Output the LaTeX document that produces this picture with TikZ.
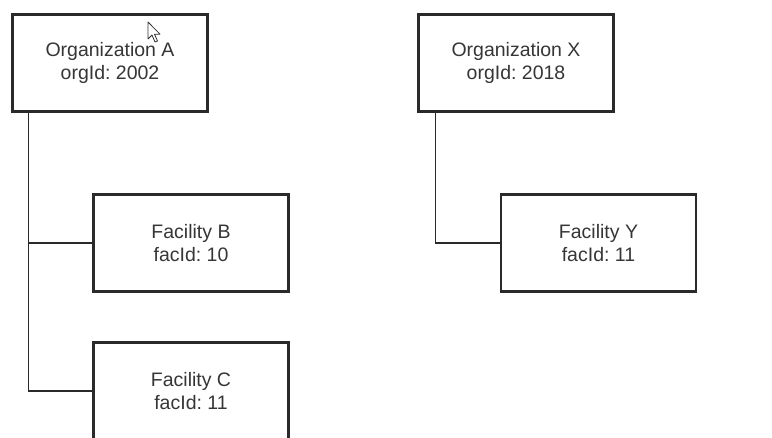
\documentclass[tikz,border=0pt]{standalone}
\usepackage{fontspec}
\setmainfont{Liberation Sans}
\frenchspacing
\begin{document}
\begin{tikzpicture}[x=1pt,y=-1pt,
  entity/.style={draw=boxline, line width=2.6pt, fill=white, rectangle,
    minimum width=195pt, minimum height=97pt, align=center, text=labeltext,
    font=\fontsize{19.5pt}{22.5pt}\selectfont, inner sep=0pt},
  link/.style={draw=boxline, line width=1.1pt}]
\definecolor{boxline}{HTML}{2A2A2A}
\definecolor{labeltext}{HTML}{363636}
\useasboundingbox (0,0) rectangle (772,437);
\clip (0,0) rectangle (772,437);

% organizations
\node[entity] (orgA) at (110,63) {Organization A\\orgId: 2002};
\node[entity] (orgX) at (516,63) {Organization X\\orgId: 2018};

% facilities
\node[entity] (facB) at (191,243) {Facility B\\facId: 10};
\node[entity] (facC) at (191,391) {Facility C\\facId: 11};
\node[entity] (facY) at (598.5,243) {Facility Y\\facId: 11};

% hierarchy links
\coordinate (trunkA) at ([xshift=17pt]orgA.south west);
\coordinate (trunkX) at ([xshift=18pt]orgX.south west);
\draw[link] (trunkA) |- (facC.west);
\draw[link] (facB.west) -- (facB.west -| trunkA);
\draw[link] (trunkX) |- (facY.west);

% mouse pointer
\begin{scope}[shift={(148,22)}]
  \filldraw[fill=white, draw=black!80, line width=0.8pt, line join=round]
    (0,0) -- (0,17) -- (4,13) -- (7,20) -- (9.5,19) -- (6.5,12.2) -- (12,12.2) -- cycle;
\end{scope}
\end{tikzpicture}
\end{document}
